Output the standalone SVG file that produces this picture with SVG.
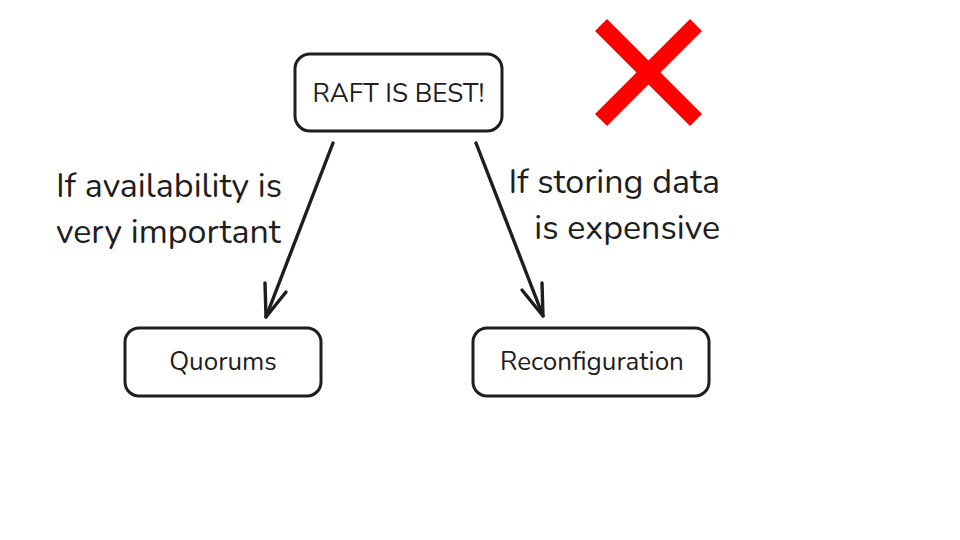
<svg xmlns="http://www.w3.org/2000/svg" width="960" height="540" viewBox="0 0 960 540">
<style>
.box{fill:#fff;stroke:#1e1e1e;stroke-width:3}
.t{font-family:"Nunito","Noto Sans","Open Sans",sans-serif;fill:#1e1e1e}
.lbl{font-size:26px;text-anchor:middle}
.big{font-size:34px}
.conn{fill:none;stroke:#1e1e1e;stroke-width:3.4;stroke-linecap:round;stroke-linejoin:round}
</style>
<rect width="960" height="540" fill="#fff"/>
<g id="cross">
<line x1="601" y1="25" x2="696" y2="120" stroke="#ff0000" stroke-width="17"/>
<line x1="696" y1="25" x2="601" y2="120" stroke="#ff0000" stroke-width="17"/>
</g>
<g id="connectors">
<path class="conn" d="M333 143 L266 317"/>
<path class="conn" d="M265 283 L266 317 L286 292"/>
<path class="conn" d="M476 143 L543 316"/>
<path class="conn" d="M522 290 L543 316 L542 283"/>
</g>
<g id="node-raft">
<rect class="box" x="295" y="54" width="207" height="77" rx="15"/>
<text class="t lbl" x="398.5" y="102">RAFT IS BEST!</text>
</g>
<g id="node-quorums">
<rect class="box" x="125" y="328" width="196" height="68" rx="14"/>
<text class="t lbl" x="223" y="370">Quorums</text>
</g>
<g id="node-reconfiguration">
<rect class="box" x="473" y="328" width="236" height="68" rx="14"/>
<text class="t lbl" x="592" y="370">Reconfiguration</text>
</g>
<g id="label-left">
<text class="t big" x="56" y="197">If availability is</text>
<text class="t big" x="56" y="243">very important</text>
</g>
<g id="label-right">
<text class="t big" x="720" y="193" text-anchor="end">If storing data</text>
<text class="t big" x="720" y="239" text-anchor="end">is expensive</text>
</g>
</svg>
